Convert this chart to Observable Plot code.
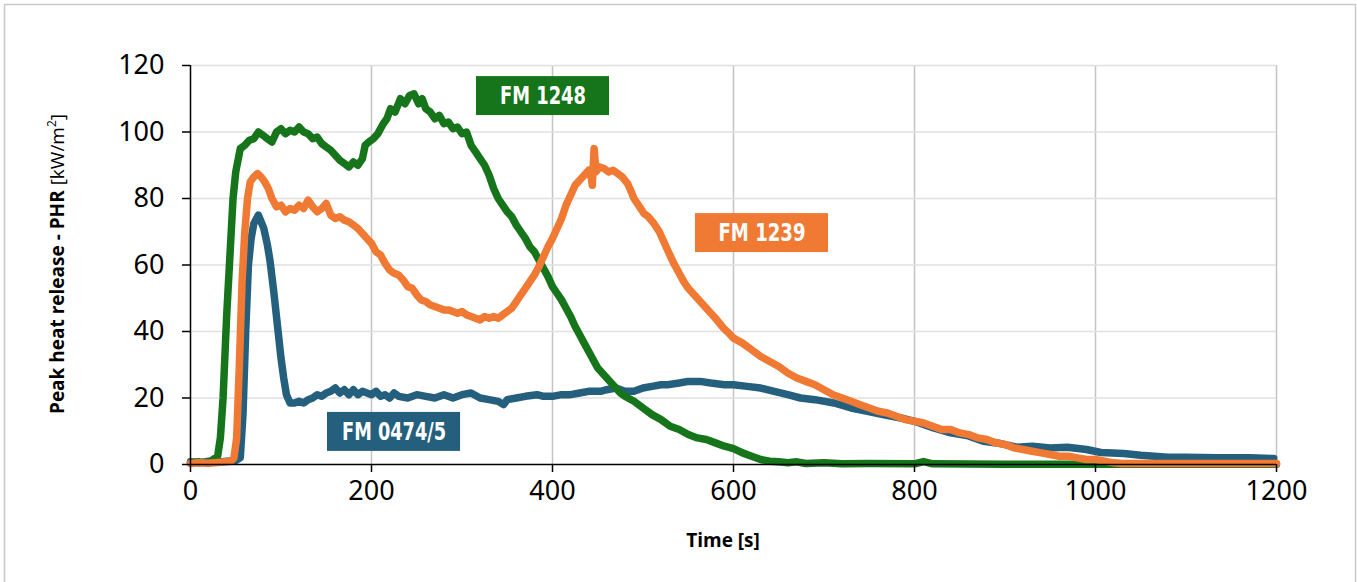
<!DOCTYPE html>
<html>
<head>
<meta charset="utf-8">
<script src="https://cdn.jsdelivr.net/npm/d3@7"></script>
<script src="https://cdn.jsdelivr.net/npm/@observablehq/plot@0.6"></script>
<style>
  html, body { margin: 0; padding: 0; background: #fff; }
  #chart { width: 1357px; height: 582px; overflow: hidden; }
</style>
</head>
<body>
<div id="chart"></div>
<script>
// ---- Data ----
const xTicks = [0, 200, 400, 600, 800, 1000, 1200];
const yTicks = [0, 20, 40, 60, 80, 100, 120];

// FM 1248 (green)
const greenT = [0,10,20,25,30,33,36,40,44,47,50,55,60,65,70,75,80,85,90,95,100,105,110,115,120,125,130,135,140,145,150,155,160,165,170,175,180,185,190,193,197,202,207,213,217,221,226,232,237,242,247,252,256,260,265,270,275,280,285,290,295,300,305,310,315,320,325,330,335,340,345,350,355,360,365,370,375,380,385,390,395,400,405,410,415,420,425,430,435,440,445,450,455,460,465,470,475,480,490,500,510,520,530,540,550,560,570,580,590,600,610,620,630,640,650,660,670,680,700,720,750,800,810,820,900,1000,1200];
const greenV = [0.5,0.8,0.4,1.5,2.5,8,20,45,65,80,88,95,96,97.5,98,100,99,98,97,100,101,99.5,100.5,100,101.5,100,99.5,98,98.5,96.5,95.5,94.5,93,91.5,90.5,89.5,91,90,92,96,97,98,99.5,102.5,104,107,106,110,108.5,111,111.5,108.5,110,107,106,104,105,102.5,103,101,101.5,99.5,100,96,94,92,90,87,83,80,78,76,74.5,72,70,68,65.5,64,61.5,59,56.5,53.5,51.5,49.5,47,44.5,41.5,39,36.5,34,31.5,29,27.5,26,24.5,23,21.5,20.5,19,17,15,13.5,11.5,10.5,9,8,7.5,6.5,5.5,4.8,3.5,2.5,1.5,1,0.8,0.5,0.8,0.3,0.5,0.2,0.3,0.2,0.9,0.2,0.1,0.1,0.1];

// FM 1239 (orange)
const orangeT = [0,10,20,30,40,45,48,51,54,57,60,63,66,70,74,78,82,86,90,95,100,105,110,115,120,125,130,135,140,145,150,155,160,165,170,175,180,185,190,195,200,205,210,215,220,225,230,235,240,245,250,255,260,265,270,275,280,285,290,295,300,305,310,315,320,325,330,335,340,345,350,355,360,365,370,375,380,385,390,395,400,405,410,415,420,425,430,435,440,443,444,446,448,452,457,462,467,472,477,483,487,490,495,501,506,512,518,523,528,534,540,545,550,555,560,565,570,575,580,589,595,600,610,620,630,640,650,660,670,680,690,700,710,720,730,740,750,760,770,780,790,800,810,820,830,840,850,860,870,880,890,900,910,920,930,940,950,960,970,980,990,1000,1010,1020,1030,1100,1200];
const orangeV = [0.3,0.5,0.4,0.6,0.8,1,2,8,30,55,70,80,85,86.5,87.5,86.5,85,83,80,77.5,78,76,77,76.5,78,77,79.5,77.5,76,77,78.5,75,74,74.5,73.5,73,72,71,69.5,68,66.5,64,63,60.5,58.5,57.5,57,55.5,53.5,53,51,49.5,49,48,47.5,47,46.5,46.5,46,45.5,46,45,44.5,44,43.5,44.5,44,44.5,44,45,46,47,49,51,53,55,57,59.5,62.5,65.5,68,71,74,78,81,84,85.5,87,88.5,86,84,95,88,89.5,89,88,88.5,87.5,86.5,84.5,82,80,78,75.5,74.5,72.5,70,67,64,60.5,57.5,55,53,51.5,50,48.5,47,45.5,44,41,39.5,38,36.5,34.5,32.5,31,29.5,27.5,26,25,24,22.5,21,20,19,18,17,16,15.5,14.5,13.5,13,12.5,11.5,10.5,10.5,9.5,9,8,7.5,6.5,6,5,4.5,4,3.5,3,2.5,2.5,2,1.5,1.5,1,0.5,0.3,0.3,0.3];

// FM 0474/5 (blue)
const blueT = [0,10,20,30,40,50,55,58,61,64,67,70,73,75,78,81,85,88,92,96,100,103,106,110,115,120,125,130,135,140,145,150,155,160,165,170,175,180,185,190,195,200,205,210,215,220,225,230,240,250,260,270,280,290,300,310,320,330,340,346,350,360,370,383,390,400,410,420,430,440,453,460,470,480,490,500,510,520,527,540,550,563,575,590,600,615,630,645,660,674,690,711,730,748,765,785,800,821,840,858,876,895,913,930,950,969,990,1006,1031,1050,1080,1100,1135,1170,1197];
const blueV = [0.8,0.5,1,0.7,1,1.2,2,15,40,60,68,72.5,74,75,73,71,66,61,52,42,32,26,21,18.5,18.5,19,18.5,19.5,20,21,20.5,21.5,22,23,21.5,22.5,21,22.5,21,22,21.5,21,22,20.5,21,20,21.5,20.5,20,21,20.5,20,21,20,21,21.5,20,19.5,19,18,19.5,20,20.5,21,20.5,20.5,21,21,21.5,22,22,22.5,23,22,22,23,23.5,24,24,24.5,25,25,24.5,24,24,23.5,23,22,21,20,19.5,18.5,17,16,15,14,13,11,9.5,8.7,7,6.3,5.2,5.5,5,5.2,4.5,3.6,3.3,2.8,2.2,2.2,2,2,1.8];

// Series labels
const seriesNames = ["FM 1248", "FM 1239", "FM 0474/5"];
const seriesColors = ["#16751b", "#f07a34", "#245f7e"];
// label box centres, in data units
const labelT = [389.5, 631.5, 224.9];
const labelV = [110.8, 69.6, 9.8];

// ---- Build tables ----
const toRows = (T, V) => T.map((t, i) => ({t, v: V[i]}));
const green = toRows(greenT, greenV);
const orange = toRows(orangeT, orangeV);
const blue = toRows(blueT, blueV);
const labels = seriesNames.map((name, i) => ({name, color: seriesColors[i], t: labelT[i], v: labelV[i]}));

const halfW = 73.5, halfH = 5.86;

const lineOpts = {x: "t", y: "v", strokeWidth: 7.5, strokeLinejoin: "round", strokeLinecap: "round"};

const chart = Plot.plot({
  width: 1357,
  height: 582,
  marginLeft: 190,
  marginRight: 81,
  marginTop: 65,
  marginBottom: 118,
  style: {fontFamily: "Noto Sans", fontSize: "27px", background: "white", color: "black"},
  x: {domain: [0, 1200], label: null},
  y: {domain: [0, 120], label: null},
  marks: [
    Plot.gridX(xTicks.slice(1), {stroke: "#c4c4c4", strokeOpacity: 1, strokeWidth: 1.5}),
    Plot.gridY(yTicks.slice(1), {stroke: "#e0e0e0", strokeOpacity: 1, strokeWidth: 1.5}),
    Plot.line(blue, {...lineOpts, stroke: seriesColors[2]}),
    Plot.line(green, {...lineOpts, stroke: seriesColors[0]}),
    Plot.line(orange, {...lineOpts, stroke: seriesColors[1]}),
    Plot.ruleY([0], {stroke: "black", strokeWidth: 1.5}),
    Plot.ruleX([0], {stroke: "black", strokeWidth: 1.5}),
    Plot.axisX(xTicks, {tickSize: 8, tickPadding: 8, stroke: "black", strokeWidth: 1.5, fontSize: 27, tickFormat: d3.format("d")}),
    Plot.axisY(yTicks, {tickSize: 8, tickPadding: 18, stroke: "black", strokeWidth: 1.5, fontSize: 27, tickFormat: d3.format("d")}),
    Plot.rect(labels, {x1: d => d.t - halfW, x2: d => d.t + halfW, y1: d => d.v - halfH, y2: d => d.v + halfH, fill: "color"}),
    Plot.text(labels, {x: "t", y: "v", text: "name", fill: "white", fontWeight: "bold", fontSize: 25, fontFamily: "DejaVu Sans Condensed", className: "series-label"})
  ]
});

document.getElementById("chart").appendChild(chart);

const svg = d3.select(chart);
// fit series label widths to the reference
const labelWidths = {"FM 1248": 86, "FM 1239": 87, "FM 0474/5": 104};
svg.selectAll(".series-label text").each(function() {
  const t = d3.select(this);
  const w = labelWidths[t.text()];
  if (w) t.attr("textLength", w).attr("lengthAdjust", "spacingAndGlyphs");
});

// Outer border
svg.append("rect")
  .attr("x", 4.5).attr("y", 4.5).attr("width", 1351).attr("height", 620)
  .attr("fill", "none").attr("stroke", "#c8c8c8").attr("stroke-width", 1.5);

// Axis titles
const yTitle = svg.append("text")
  .attr("transform", "translate(64,264) rotate(-90)")
  .attr("text-anchor", "middle")
  .attr("font-family", "Open Sans")
  .attr("font-size", 19)
  .attr("fill", "black");
yTitle.append("tspan").attr("font-weight", "bold").text("Peak heat release - PHR ");
yTitle.append("tspan").text("[kW/m");
yTitle.append("tspan").attr("font-size", 12).attr("dy", -8).text("2");
yTitle.append("tspan").attr("dy", 8).text("]");

svg.append("text")
  .attr("x", 723).attr("y", 547)
  .attr("text-anchor", "middle")
  .attr("font-family", "Open Sans")
  .attr("font-weight", "bold")
  .attr("font-size", 19)
  .attr("fill", "black")
  .text("Time [s]");
</script>
</body>
</html>
